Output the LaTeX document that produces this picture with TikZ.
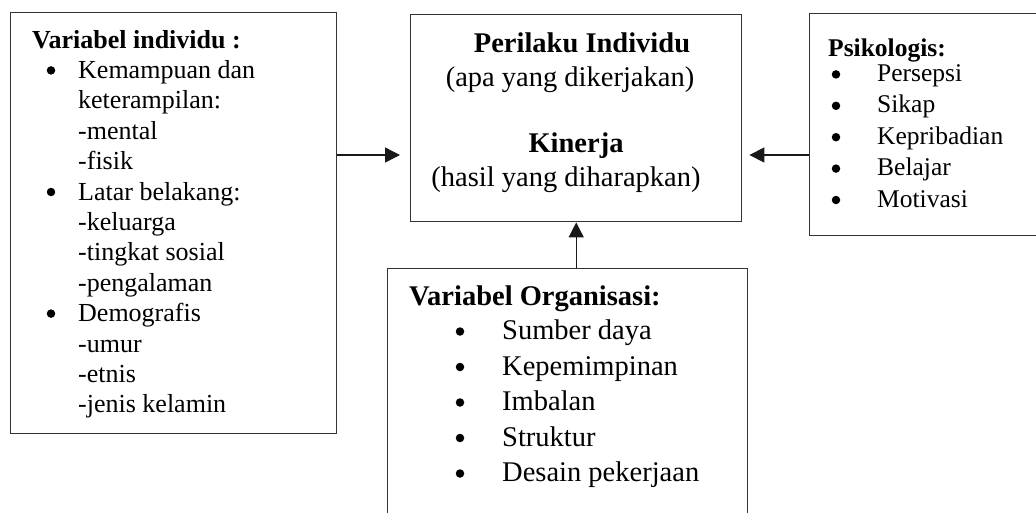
\documentclass[tikz,border=0pt]{standalone}
\usepackage{fontspec}
\setmainfont{Liberation Serif}
\usetikzlibrary{arrows.meta,positioning,calc}

\tikzset{
  kotak/.style={draw=black!80, line width=1.4pt, anchor=north west, inner sep=0pt},
  panah/.style={draw=black!90, line width=1.4pt, -{Triangle[length=15pt,width=15pt]}},
  teksind/.style={anchor=base west, inner sep=0pt, font=\fontsize{26}{30}\selectfont},
  tekspsi/.style={anchor=base west, inner sep=0pt, font=\fontsize{25.5}{30}\selectfont},
  teksorg/.style={anchor=base west, inner sep=0pt, font=\fontsize{28.5}{34}\selectfont},
  tekstengah/.style={anchor=base, inner sep=0pt, font=\fontsize{28.5}{34}\selectfont},
  titik/.style={circle, fill=black, inner sep=0pt, minimum size=8.5pt}
}

\begin{document}
\begin{tikzpicture}[x=1pt,y=-1pt]
\useasboundingbox (0,0) rectangle (1036,512);
\fill[white] (0,0) rectangle (1036,512);
\clip (0,0) rectangle (1036,512);

% Boxes
\node[kotak, minimum width=326pt, minimum height=421pt] (indiv) at (10,12) {};
\node[kotak, minimum width=331pt, minimum height=207pt] (perilaku) at (410,14) {};
\node[kotak, minimum width=240pt, minimum height=222pt] (psiko) at (809,13) {};
\node[kotak, minimum width=360pt, minimum height=260pt] (organisasi) at (387,268) {};

% Variabel individu
\node[teksind, font=\fontsize{26}{30}\selectfont\bfseries] (ind-0) at (32,48) {Variabel individu :};
\foreach \t [count=\i] in {Kemampuan dan, keterampilan:, -mental, -fisik,
    Latar belakang:, -keluarga, -tingkat sosial, -pengalaman,
    Demografis, -umur, -etnis, -jenis kelamin}
  \node[teksind] (ind-\i) at (78,{48+30.4*\i}) {\t};
\foreach \i in {1,5,9}
  \node[titik] at (51,{40+30.4*\i}) {};

% Perilaku dan kinerja
\node[tekstengah, font=\fontsize{28.5}{34}\selectfont\bfseries] (per-1) at (582,52) {Perilaku Individu};
\node[tekstengah] (per-2) at (570,86) {(apa yang dikerjakan)};
\node[tekstengah, font=\fontsize{28.5}{34}\selectfont\bfseries] (per-3) at (576,152) {Kinerja};
\node[tekstengah] (per-4) at (566,186) {(hasil yang diharapkan)};

% Psikologis
\node[tekspsi, font=\fontsize{25.5}{30}\selectfont\bfseries] (psi-0) at (828,56) {Psikologis:};
\foreach \t [count=\i] in {Persepsi, Sikap, Kepribadian, Belajar, Motivasi} {
  \node[tekspsi] (psi-\i) at (877,{50+31.4*\i}) {\t};
  \node[titik] at (836,{43+31.4*\i}) {};
}

% Variabel organisasi
\node[teksorg, font=\fontsize{28.5}{34}\selectfont\bfseries] (org-0) at (409,305) {Variabel Organisasi:};
\foreach \t [count=\i] in {Sumber daya, Kepemimpinan, Imbalan, Struktur, Desain pekerjaan} {
  \node[teksorg] (org-\i) at (502,{304+35.5*\i}) {\t};
  \node[titik] at (460,{296+35.5*\i}) {};
}

% Arrows
\coordinate (arY) at (0,155);
\draw[panah, shorten >=10pt] (indiv.east |- arY) -- (perilaku.west |- arY);
\draw[panah, shorten >=7pt] (psiko.west |- arY) -- (perilaku.east |- arY);
\draw[panah] (organisasi.north -| perilaku.south) -- (perilaku.south);

\end{tikzpicture}
\end{document}
